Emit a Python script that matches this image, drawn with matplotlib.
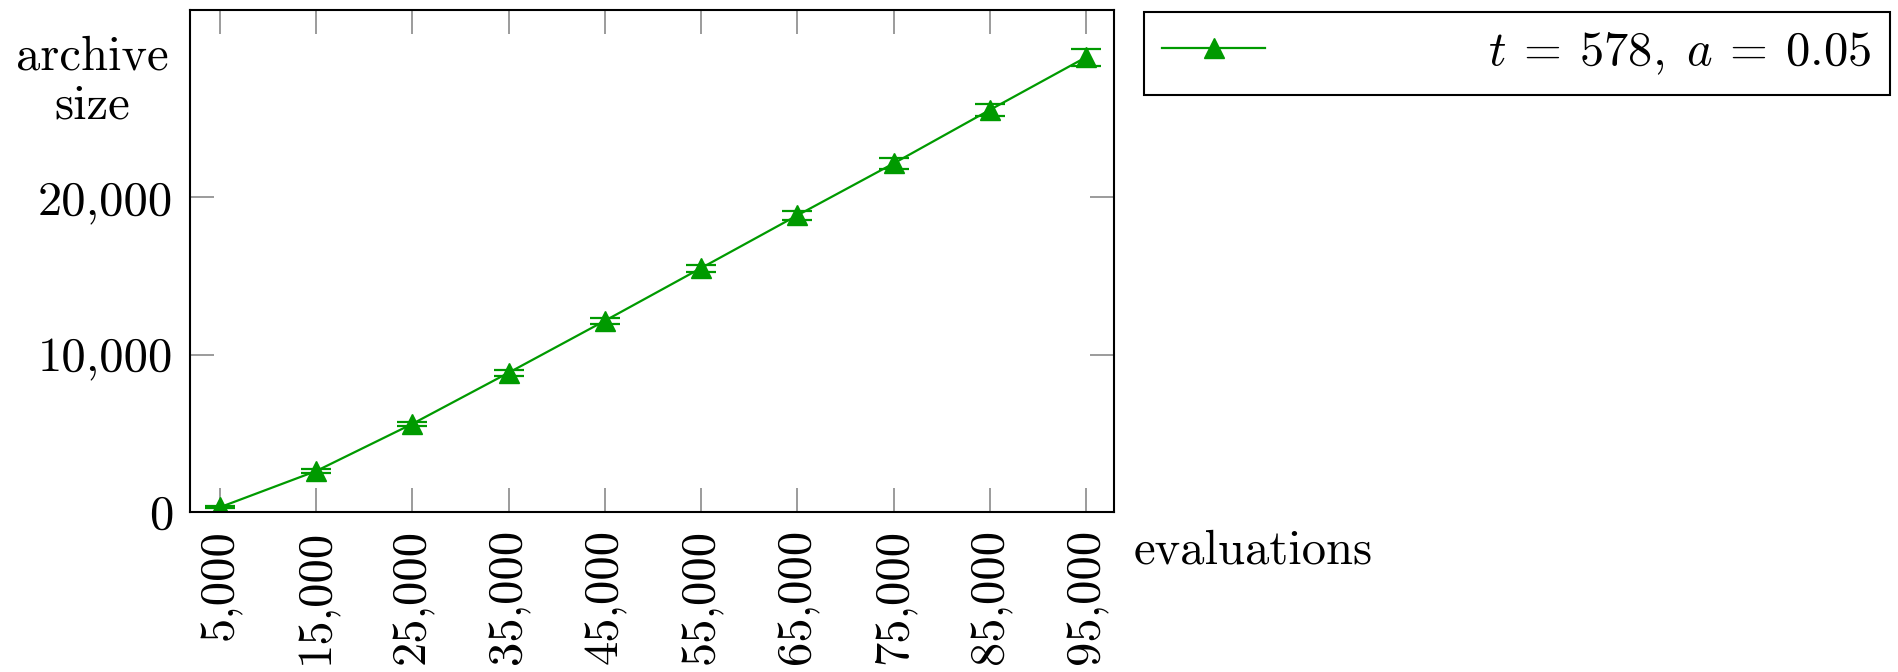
import numpy as np
import matplotlib
matplotlib.use("Agg")
import matplotlib.pyplot as plt
from matplotlib.ticker import FuncFormatter

plt.rcParams['font.family'] = 'cmr10'
plt.rcParams['mathtext.fontset'] = 'cm'
plt.rcParams['axes.unicode_minus'] = False
plt.rcParams['font.size'] = 35

evaluations = [5000, 15000, 25000, 35000, 45000, 55000, 65000, 75000, 85000, 95000]
archive_size = [300, 2600, 5600, 8850, 12150, 15500, 18850, 22150, 25550, 28900]
archive_err = [60, 120, 150, 180, 200, 220, 280, 330, 380, 550]
legend_label = r'$t\:=\:578,\; a\:=\:0.05$'

green = '#009a00'

fig = plt.figure(figsize=(18.98, 6.72), dpi=100)
ax = fig.add_axes([190 / 1898, 1 - 512 / 672, (1114 - 190) / 1898, (512 - 10) / 672])

cont = ax.errorbar(evaluations, archive_size, yerr=archive_err, color=green,
                   marker='^', ms=15, lw=1.6, capsize=11, capthick=1.6, elinewidth=1.6)

ax.set_xlim(1900, 97900)
ax.set_ylim(0, 31900)
ax.set_xticks(evaluations)
ax.set_yticks([0, 10000, 20000])
fmt = FuncFormatter(lambda v, p: f'{int(v):,}')
ax.xaxis.set_major_formatter(fmt)
ax.yaxis.set_major_formatter(fmt)
ax.tick_params(axis='x', rotation=90)
ax.tick_params(direction='in', length=17, width=1.1, color='#808080',
               top=True, right=True, pad=12)
for s in ax.spines.values():
    s.set_linewidth(1.5)

fig.text(92 / 1898, 1 - 82 / 672, 'archive\nsize', ha='center', va='center',
         linespacing=1.15)
fig.text(1134 / 1898, 1 - 551 / 672, 'evaluations', ha='left', va='center')

leg = fig.legend([cont.lines[0]], [legend_label], loc='upper left',
                 bbox_to_anchor=(1144 / 1898, 1 - 12 / 672), frameon=True,
                 fancybox=False, edgecolor='black', framealpha=1, numpoints=1,
                 handlelength=2.1, handletextpad=4.6, borderpad=0.38, borderaxespad=0)
leg.get_frame().set_linewidth(1.5)

fig.savefig('out.png', dpi=100)
